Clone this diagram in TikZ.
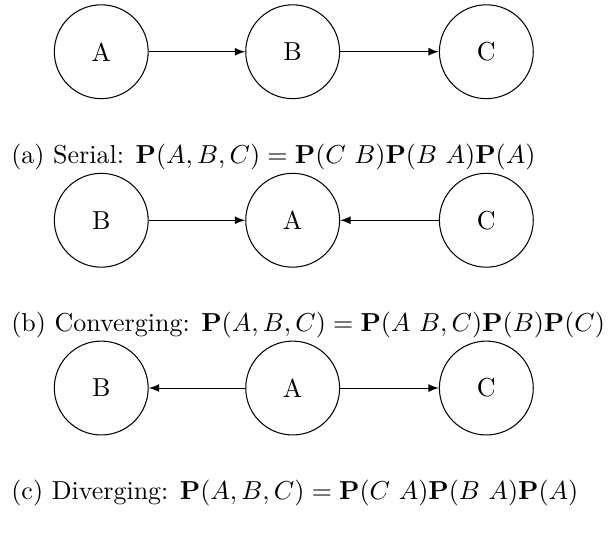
\documentclass[tikz,border=0pt]{standalone}
\usepackage{amsmath}
\usepackage{tikz}
\usetikzlibrary{arrows}

\tikzset{
  var/.style={draw, circle, minimum size=1.27cm, inner sep=0pt},
  link/.style={-latex}
}

\begin{document}
\begin{tikzpicture}
        \useasboundingbox (0,0) rectangle (8.24,-7.39);

        % (a) serial
        \node[var] (sa) at (1.37,-0.70) {A};
        \node[var] (sb) at (3.96,-0.70) {B};
        \node[var] (sc) at (6.58,-0.70) {C};
        \draw[link] (sa) -- (sb);
        \draw[link] (sb) -- (sc);
        \node[anchor=west] (capa) at (0.03,-2.12) {(a) Serial: $\mathbf{P}(A,B,C)=\mathbf{P}(C\ B)\mathbf{P}(B\ A)\mathbf{P}(A)$};

        % (b) converging
        \node[var] (cb) at (1.37,-2.98) {B};
        \node[var] (ca) at (3.96,-2.98) {A};
        \node[var] (cc) at (6.58,-2.98) {C};
        \draw[link] (cb) -- (ca);
        \draw[link] (cc) -- (ca);
        \node[anchor=west] (capb) at (0.03,-4.40) {(b) Converging: $\mathbf{P}(A,B,C)=\mathbf{P}(A\ B,C)\mathbf{P}(B)\mathbf{P}(C)$};

        % (c) diverging
        \node[var] (db) at (1.37,-5.25) {B};
        \node[var] (da) at (3.96,-5.25) {A};
        \node[var] (dc) at (6.58,-5.25) {C};
        \draw[link] (da) -- (db);
        \draw[link] (da) -- (dc);
        \node[anchor=west] (capc) at (0.03,-6.67) {(c) Diverging: $\mathbf{P}(A,B,C)=\mathbf{P}(C\ A)\mathbf{P}(B\ A)\mathbf{P}(A)$};

    \end{tikzpicture}
\end{document}
